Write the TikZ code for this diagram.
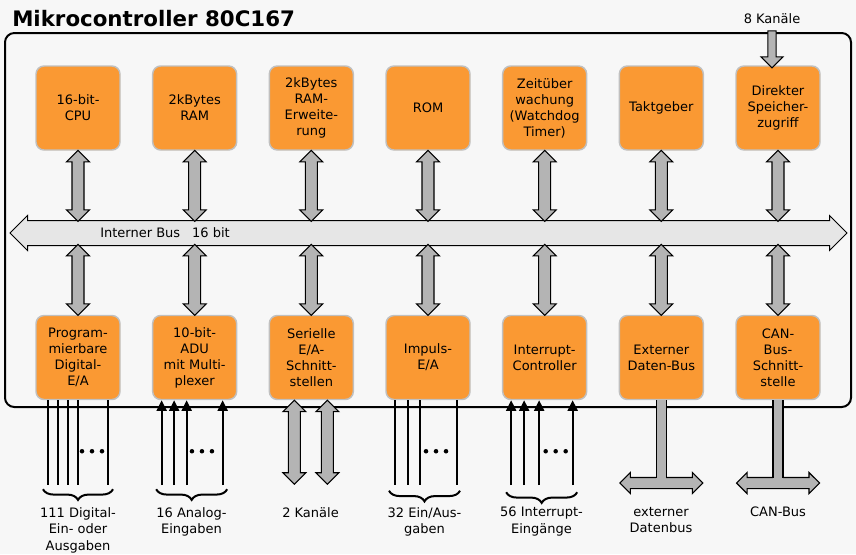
\documentclass[tikz,border=0pt]{standalone}
\usepackage{fontspec}
\setmainfont{DejaVu Sans}
\usetikzlibrary{shapes.arrows,arrows.meta,calc,decorations.pathreplacing}
\definecolor{boxorange}{RGB}{250,153,51}
\definecolor{boxedge}{RGB}{192,192,192}
\definecolor{arrowgray}{RGB}{180,180,180}
\definecolor{busgray}{RGB}{230,230,230}
\definecolor{bggray}{RGB}{247,247,247}
\tikzset{
  unit/.style={draw=boxedge, line width=1.1pt, fill=boxorange, rounded corners=6pt,
    minimum width=63pt, minimum height=63pt, inner sep=0pt, align=center,
    font=\fontsize{9.75}{12}\selectfont},
  garr/.style={double arrow, draw=black, line width=0.8pt, fill=arrowgray, inner xsep=0pt,
    inner ysep=4.1pt, double arrow head extend=4.1pt},
  vgarr/.style={garr, rotate=90},
  sarr/.style={single arrow, draw=black, line width=0.8pt, fill=arrowgray, inner xsep=0pt,
    inner ysep=2.7pt, single arrow head extend=5.2pt, rotate=-90},
  sig/.style={line width=1.5pt},
  sigin/.style={sig, -{Triangle[length=8pt,width=7.5pt]}},
  lbl/.style={align=center, inner sep=0pt, font=\fontsize{9.75}{12.4}\selectfont},
  brc/.style={decorate, decoration={brace, mirror, amplitude=8pt}, line width=1.5pt},
}
\begin{document}
\begin{tikzpicture}[x=0.75pt, y=-0.75pt]
\useasboundingbox (0,0) rectangle (856,554) ;
\fill[bggray] (0,0) rectangle (856,554) ;
\node[anchor=base west, inner sep=0pt, font=\bfseries\fontsize{16}{19}\selectfont] (title) at (12,26) {Mikrocontroller 80C167} ;
\draw[line width=1.5pt, rounded corners=7pt] (5,33) rectangle (851,407) ;

% Bausteine oben und unten
\foreach \txt [count=\i] in {{16-bit-\\CPU}, {2kBytes\\RAM}, {2kBytes\\RAM-\\Erweite-\\rung}, {ROM},
  {Zeitüber\\wachung\\(Watchdog\\Timer)}, {Taktgeber}, {Direkter\\Speicher-\\zugriff}}
  \node[unit] (t\i) at ({78+116.667*(\i-1)},108) {\txt} ;
\foreach \txt [count=\i] in {{Program-\\mierbare\\Digital-\\E/A}, {10-bit-\\ADU\\mit Multi-\\plexer},
  {Serielle\\E/A-\\Schnitt-\\stellen}, {Impuls-\\E/A}, {Interrupt-\\Controller},
  {Externer\\Daten-Bus}, {CAN-\\Bus-\\Schnitt-\\stelle}}
  \node[unit] (b\i) at ({78+116.667*(\i-1)},357.5) {\txt} ;

% interner Bus
\node[garr, fill=busgray, line width=0.75pt, minimum height=627.75pt, inner ysep=9pt,
  double arrow head extend=3.75pt] (bus) at (428.5,233) {} ;
\node[lbl, anchor=west] (bustxt) at (100,233) {Interner Bus\hspace{9pt}16 bit} ;
\coordinate (bustop) at (0,221) ;
\coordinate (busbot) at (0,245) ;
\foreach \i in {1,...,7} {
  \path (t\i.south) -- (t\i.south |- bustop) node[midway, vgarr, minimum height=53.25pt] (up\i) {} ;
  \path (busbot -| b\i.north) -- (b\i.north) node[midway, vgarr, minimum height=53.25pt] (dn\i) {} ;
}

% DMA-Kanaele
\node[lbl, anchor=base] (kan8) at (772,23) {8 Kanäle} ;
\path ($(kan8.south)+(0,6)$) -- (kan8.south |- t7.north) node[midway, sarr, minimum height=27.75pt] (dma) {} ;

% Digital-E/A
\foreach \dx in {-30,-20,-10,0,30} \draw[sig] ($(b1.south)+(\dx,0)$) -- ++(0,85) ;
\foreach \d in {-10,0,10} \fill ($(b1.south)+(14+\d,51)$) circle (1.7pt) ;
\draw[brc] ($(b1.south)+(-35,89)$) -- ($(b1.south)+(35,89)$) ;
\node[lbl, anchor=north] (lab1) at (78,507) {111 Digital-\\Ein- oder\\Ausgaben} ;

% ADU
\foreach \dx in {-33,-20.5,-8,28} \draw[sigin] ($(b2.south)+(\dx,85)$) -- ($(b2.south)+(\dx,0)$) ;
\foreach \d in {-10,0,10} \fill ($(b2.south)+(7.3+\d,51)$) circle (1.7pt) ;
\draw[brc] ($(b2.south)+(-38.5,89)$) -- ($(b2.south)+(32.5,89)$) ;
\node[lbl, anchor=north] (lab2) at (191.5,507) {16 Analog-\\Eingaben} ;

% Serielle Schnittstellen
\foreach \dx [count=\k] in {-17,16}
  \path ($(b3.south)+(\dx,0)$) -- ++(0,84) node[midway, vgarr, minimum height=63pt] (ser\k) {} ;
\node[lbl, anchor=north] (lab3) at (310.5,507) {2 Kanäle} ;

% Impuls-E/A
\foreach \dx in {-33.5,-20.5,-8,28.5} \draw[sig] ($(b4.south)+(\dx,0)$) -- ++(0,85) ;
\foreach \d in {-10,0,10} \fill ($(b4.south)+(8+\d,51)$) circle (1.7pt) ;
\draw[brc] ($(b4.south)+(-39,90.5)$) -- ($(b4.south)+(32,90.5)$) ;
\node[lbl, anchor=north] (lab4) at (424.5,507) {32 Ein/Aus-\\gaben} ;

% Interrupts
\foreach \dx in {-33.5,-20.5,-5.5,28} \draw[sigin] ($(b5.south)+(\dx,85)$) -- ($(b5.south)+(\dx,0)$) ;
\foreach \d in {-10,0,10} \fill ($(b5.south)+(11+\d,51)$) circle (1.7pt) ;
\draw[brc] ($(b5.south)+(-38.5,92)$) -- ($(b5.south)+(32.5,92)$) ;
\node[lbl, anchor=north] (lab5) at (541.5,507) {56 Interrupt-\\Eingänge} ;

% externer Datenbus und CAN-Bus
\coordinate (low) at (0,483) ;
\foreach \i/\name in {6/xbus, 7/canbus} {
  \node[garr, minimum height=62.25pt, inner ysep=3.75pt, double arrow head extend=3.75pt] (\name) at (b\i.south |- low) {} ;
  \fill[arrowgray] ($(b\i.south)+(-5,0)$) rectangle ($(\name.center)+(5,0)$) ;
  \draw[line width=0.8pt] ($(b\i.south)+(-5,0)$) -- ($(\name.center)+(-5,-5)$) ;
  \draw[line width=0.8pt] ($(b\i.south)+(5,0)$) -- ($(\name.center)+(5,-5)$) ;
}
\node[lbl, anchor=north] (lab6) at (661,507) {externer\\Datenbus} ;
\node[lbl, anchor=north] (lab7) at (778,507) {CAN-Bus} ;
\end{tikzpicture}
\end{document}
